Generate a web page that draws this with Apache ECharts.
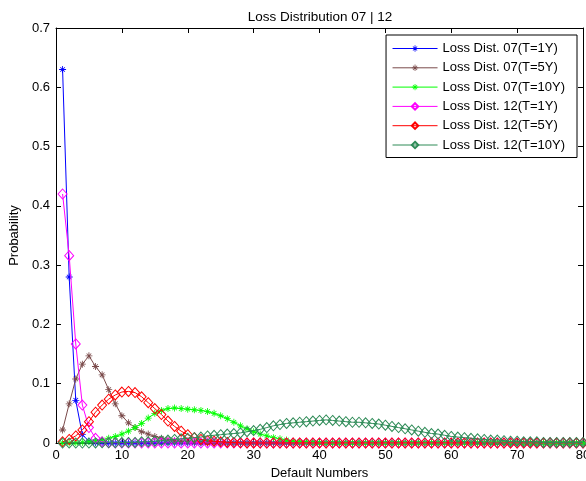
<!DOCTYPE html>
<html><head><meta charset="utf-8">
<script src="https://cdn.jsdelivr.net/npm/echarts@6/dist/echarts.min.js"></script>
<style>html,body{margin:0;padding:0;background:#fff}#c{width:586px;height:481px}</style>
</head><body><div id="c"></div>
<script>
var titleText = "Loss Distribution 07 | 12";
var xTicks = [0, 10, 20, 30, 40, 50, 60, 70, 80];
var yTicks = [0, 0.1, 0.2, 0.3, 0.4, 0.5, 0.6, 0.7];
var seriesNames = ["Loss Dist. 07(T=1Y)", "Loss Dist. 07(T=5Y)", "Loss Dist. 07(T=10Y)",
                   "Loss Dist. 12(T=1Y)", "Loss Dist. 12(T=5Y)", "Loss Dist. 12(T=10Y)"];

var dist07_1Y = [0.630,0.280,0.072,0.014,0.003,0.0005,0,0,0,0,
  0,0,0,0,0,0,0,0,0,0, 0,0,0,0,0,0,0,0,0,0, 0,0,0,0,0,0,0,0,0,0,
  0,0,0,0,0,0,0,0,0,0, 0,0,0,0,0,0,0,0,0,0, 0,0,0,0,0,0,0,0,0,0, 0,0,0,0,0,0,0,0,0,0];
var dist07_5Y = [0.022,0.066,0.108,0.133,0.147,0.129,0.115,0.090,0.066,0.046,
  0.034,0.026,0.019,0.015,0.011,0.008,0.006,0.004,0.003,0.002,
  0.0015,0.001,0.0007,0.0005,0.0003,0,0,0,0,0, 0,0,0,0,0,0,0,0,0,0,
  0,0,0,0,0,0,0,0,0,0, 0,0,0,0,0,0,0,0,0,0, 0,0,0,0,0,0,0,0,0,0, 0,0,0,0,0,0,0,0,0,0];
var dist07_10Y = [0,0,0.0003,0.001,0.002,0.003,0.005,0.008,0.011,0.015,
  0.020,0.026,0.033,0.042,0.050,0.055,0.058,0.059,0.058,0.057,
  0.056,0.055,0.053,0.050,0.046,0.041,0.035,0.029,0.024,0.019,
  0.015,0.012,0.009,0.007,0.005,0.003,0.002,0.0015,0.001,0.0005,
  0,0,0,0,0,0,0,0,0,0, 0,0,0,0,0,0,0,0,0,0, 0,0,0,0,0,0,0,0,0,0, 0,0,0,0,0,0,0,0,0,0];
var dist12_1Y = [0.420,0.316,0.167,0.064,0.026,0.008,0.002,0.0005,0,0,
  0,0,0,0,0,0,0,0,0,0, 0,0,0,0,0,0,0,0,0,0, 0,0,0,0,0,0,0,0,0,0,
  0,0,0,0,0,0,0,0,0,0, 0,0,0,0,0,0,0,0,0,0, 0,0,0,0,0,0,0,0,0,0, 0,0,0,0,0,0,0,0,0,0];
var dist12_5Y = [0.002,0.006,0.012,0.022,0.036,0.052,0.064,0.074,0.081,0.086,
  0.087,0.085,0.078,0.068,0.058,0.048,0.037,0.028,0.020,0.014,
  0.009,0.006,0.004,0.003,0.002,0.001,0.0007,0.0004,0.0002,0.0001,
  0,0,0,0,0,0,0,0,0,0, 0,0,0,0,0,0,0,0,0,0, 0,0,0,0,0,0,0,0,0,0, 0,0,0,0,0,0,0,0,0,0, 0,0,0,0,0,0,0,0,0,0];
var dist12_10Y = [0,0,0,0,0,0.0002,0.0003,0.0004,0.0005,0.0007,
  0.001,0.001,0.002,0.002,0.003,0.004,0.005,0.006,0.007,0.008,
  0.009,0.010,0.012,0.013,0.014,0.015,0.016,0.017,0.019,0.021,
  0.023,0.026,0.029,0.031,0.033,0.034,0.035,0.036,0.037,0.038,
  0.039,0.038,0.037,0.036,0.035,0.035,0.034,0.033,0.032,0.030,
  0.028,0.026,0.024,0.022,0.020,0.018,0.016,0.015,0.013,0.011,
  0.010,0.009,0.008,0.007,0.006,0.005,0.005,0.004,0.003,0.003,
  0.002,0.002,0.002,0.001,0.001,0.001,0.001,0.001,0.001,0.001];

var allData = [dist07_1Y, dist07_5Y, dist07_10Y, dist12_1Y, dist12_5Y, dist12_10Y];
var colors = ['#0000ff', '#7a4a4a', '#00ff00', '#ff00ff', '#ff0000', '#2e8b57'];
var star = 'path://M0,4.4L10,4.4L10,5.6L0,5.6Z M4.4,0L5.6,0L5.6,10L4.4,10Z M1.3,2.1L2.1,1.3L8.7,7.9L7.9,8.7Z M7.9,1.3L8.7,2.1L2.1,8.7L1.3,7.9Z';

var series = allData.map(function (arr, k) {
  var c = colors[k];
  var isStar = k < 3;
  return {
    name: seriesNames[k],
    type: 'line',
    data: arr.map(function (v, i) { return [i + 1, v]; }),
    showAllSymbol: true,
    symbol: isStar ? star : 'diamond',
    symbolSize: isStar ? 7 : [9, 10],
    lineStyle: { color: c, width: 1 },
    itemStyle: isStar ? { color: c, borderWidth: 0 } : { color: 'rgba(0,0,0,0)', borderColor: c, borderWidth: 1 },
    emphasis: { disabled: true },
    z: 2 + k
  };
});

var FONT = 'Liberation Sans, Arial, sans-serif';
var chart = echarts.init(document.getElementById('c'));
var axisFont = { color: '#000', fontSize: 13, fontFamily: FONT };
chart.setOption({
  animation: false,
  backgroundColor: '#fff',
  title: {
    text: titleText, left: 315, top: 5, textAlign: 'center',
    textStyle: { fontSize: 13.5, fontWeight: 'normal', color: '#000', fontFamily: FONT }
  },
  grid: { left: 56, right: 3, top: 28, bottom: 38, containLabel: false, outerBoundsMode: 'none' },
  legend: {
    orient: 'vertical', right: 9, top: 35,
    backgroundColor: '#fff', borderColor: '#000', borderWidth: 1,
    padding: [6, 12, 5, 6], itemGap: 4.3, itemWidth: 45, itemHeight: 8,
    lineStyle: { width: 1 },
    textStyle: { fontSize: 13, color: '#000', fontFamily: FONT, lineHeight: 15 },
    data: seriesNames
  },
  xAxis: [{
    type: 'value', min: xTicks[0], max: xTicks[xTicks.length - 1], interval: 10,
    name: 'Default Numbers', nameLocation: 'middle', nameGap: 23,
    nameTextStyle: axisFont,
    axisLine: { show: true, onZero: false, lineStyle: { color: '#000', width: 1 } },
    axisTick: { show: true, inside: true, length: 5, lineStyle: { color: '#000' } },
    axisLabel: Object.assign({ margin: 6 }, axisFont),
    splitLine: { show: false }
  }, {
    type: 'value', position: 'top', min: xTicks[0], max: xTicks[xTicks.length - 1], interval: 10,
    axisLine: { show: true, onZero: false, lineStyle: { color: '#000', width: 1 } },
    axisTick: { show: true, inside: true, length: 5, lineStyle: { color: '#000' } },
    axisLabel: { show: false }, splitLine: { show: false }
  }],
  yAxis: [{
    type: 'value', min: yTicks[0], max: yTicks[yTicks.length - 1], interval: 0.1,
    name: 'Probability', nameLocation: 'middle', nameGap: 28,
    nameTextStyle: axisFont,
    axisLine: { show: true, onZero: false, lineStyle: { color: '#000', width: 1 } },
    axisTick: { show: true, inside: true, length: 5, lineStyle: { color: '#000' } },
    axisLabel: Object.assign({ margin: 6 }, axisFont),
    splitLine: { show: false }
  }, {
    type: 'value', position: 'right', min: yTicks[0], max: yTicks[yTicks.length - 1], interval: 0.1,
    axisLine: { show: true, onZero: false, lineStyle: { color: '#000', width: 1 } },
    axisTick: { show: true, inside: true, length: 5, lineStyle: { color: '#000' } },
    axisLabel: { show: false }, splitLine: { show: false }
  }],
  series: series
});
</script>
</body></html>
